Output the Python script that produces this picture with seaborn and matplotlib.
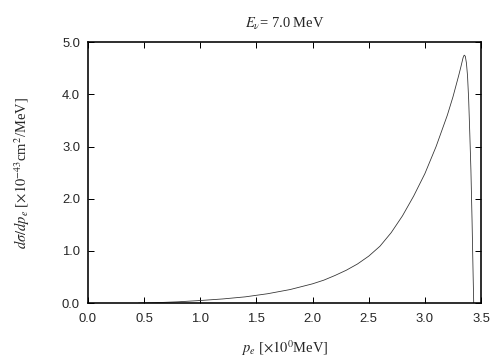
import numpy as np
import pandas as pd
import seaborn as sns
import matplotlib as mpl
import matplotlib.pyplot as plt

# values
p_e = [0.45, 0.6, 0.8, 1.0, 1.2, 1.4, 1.6, 1.8, 2.0, 2.1, 2.2, 2.3, 2.4,
       2.5, 2.6, 2.7, 2.8, 2.9, 3.0, 3.1, 3.2, 3.25, 3.3, 3.32, 3.34, 3.35,
       3.36, 3.37, 3.38, 3.39, 3.40, 3.41, 3.42, 3.43, 3.435]
dsigma = [0.0, 0.008, 0.025, 0.05, 0.08, 0.12, 0.18, 0.26, 0.37, 0.44,
          0.53, 0.63, 0.75, 0.90, 1.09, 1.35, 1.67, 2.05, 2.48, 3.00, 3.60,
          3.95, 4.35, 4.52, 4.70, 4.75, 4.73, 4.60, 4.35, 3.90, 3.25, 2.55,
          1.60, 0.50, 0.0]
x_ticks = [0.0, 0.5, 1.0, 1.5, 2.0, 2.5, 3.0, 3.5]
y_ticks = [0.0, 1.0, 2.0, 3.0, 4.0, 5.0]


def main():
    sns.set_style("ticks")
    plt.rcParams["font.family"] = ["Liberation Sans", "DejaVu Sans"]
    plt.rcParams["mathtext.fontset"] = "stix"

    df = pd.DataFrame({"p_e": p_e, "dsigma": dsigma})

    fig = plt.figure(figsize=(7, 5), dpi=72)
    ax = fig.add_axes([0.1746, 0.158, 0.7798, 0.725])

    sns.lineplot(data=df, x="p_e", y="dsigma", ax=ax, color="#333333",
                 linewidth=0.8, sort=False)

    ax.set_xlim(0, 3.5)
    ax.set_ylim(0, 5.0)
    ax.set_xticks(x_ticks)
    ax.set_yticks(y_ticks)
    ax.set_xticklabels([f"{v:.1f}" for v in x_ticks])
    ax.set_yticklabels([f"{v:.1f}" for v in y_ticks])
    ax.tick_params(direction="in", length=6, width=1, top=True, right=True,
                   labelsize=13, color="black")
    ax.tick_params(axis="x", pad=10)
    ax.tick_params(axis="y", pad=8)
    for s in ax.spines.values():
        s.set_linewidth(1.6)
        s.set_color("black")

    serif = {"family": ["Liberation Serif", "DejaVu Serif"], "size": 14.5}
    ax.set_title(r"$E_{\nu}$= 7.0 MeV", fontdict=serif, pad=14)
    ax.set_xlabel(r"$p_e$ [$\times10^{0}$MeV]", fontdict=serif, labelpad=13)
    ax.set_ylabel(r"$d\sigma/dp_e$ [$\times10^{-43}$cm$^2$/MeV]",
                  fontdict=serif, labelpad=30)

    fig.savefig("out.png", dpi=72)


if __name__ == "__main__":
    main()
